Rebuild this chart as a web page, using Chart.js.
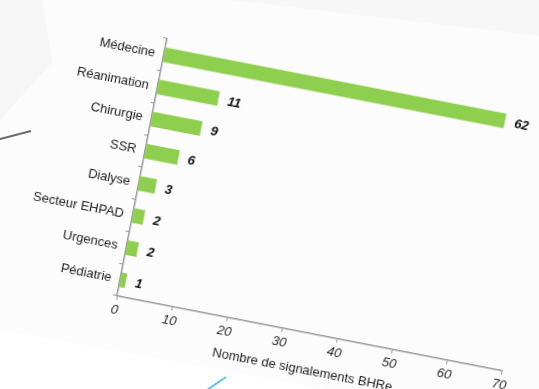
<!DOCTYPE html>
<html>
<head>
<meta charset="utf-8">
<script src="https://cdn.jsdelivr.net/npm/chart.js@4/dist/chart.umd.min.js"></script>
<style>
  html, body { margin: 0; padding: 0; background: #fcfcfc; overflow: hidden; }
  #wrap { position: relative; width: 539px; height: 389px; overflow: hidden; }
  #bg { position: absolute; left: 0; top: 0; }
  #chart { position: absolute; }
</style>
</head>
<body>
<div id="wrap">
  <svg id="bg" width="539" height="389">
    <polygon points="0,330 539,428 539,389 0,389" fill="#ffffff"/>
    <polygon points="230,0 539,0 539,36" fill="#f7f7f7"/>
    <polygon points="0,0 42,0 52,62 0,120" fill="#f6f6f6"/>
    <line x1="0" y1="139" x2="31" y2="131" stroke="#6a6a6a" stroke-width="2"/>
    <line x1="207" y1="390" x2="226" y2="377" stroke="#5bc0eb" stroke-width="2"/>
  </svg>
  <canvas id="chart" width="542" height="320"></canvas>
</div>
<script>
const categories = ['Médecine', 'Réanimation', 'Chirurgie', 'SSR', 'Dialyse', 'Secteur EHPAD', 'Urgences', 'Pédiatrie'];
const signalements = [62, 11, 9, 6, 3, 2, 2, 1];
const xMin = 0;
const xMax = 70;
const xStep = 10;

// the photo is tilted, so the whole canvas gets rotated around the axis origin
const ORIGIN_X = 117, ORIGIN_Y = 296, TILT = 11;
const AXIS_W = 392, AXIS_H = 264;

const font = '"Liberation Sans", Arial, sans-serif';

// numbers at the end of each bar
const valueLabels = {
  id: 'valueLabels',
  afterDatasetsDraw(chart) {
    const ctx = chart.ctx;
    const meta = chart.getDatasetMeta(0);
    ctx.save();
    ctx.font = 'italic bold 13px ' + font;
    ctx.fillStyle = '#111';
    ctx.textAlign = 'left';
    ctx.textBaseline = 'middle';
    meta.data.forEach((bar, i) => {
      ctx.fillText(signalements[i], bar.x + 10, bar.y + 1);
    });
    ctx.restore();
  }
};

const chart = new Chart(document.getElementById('chart'), {
  type: 'bar',
  data: {
    labels: categories,
    datasets: [{
      data: signalements,
      backgroundColor: '#8fcf4f',
      borderWidth: 0,
      barThickness: 14
    }]
  },
  options: {
    indexAxis: 'y',
    responsive: false,
    animation: false,
    layout: { padding: { top: 10, right: 40, left: 0, bottom: 0 } },
    plugins: { legend: { display: false }, tooltip: { enabled: false } },
    scales: {
      x: {
        min: xMin, max: xMax,
        ticks: { stepSize: xStep, color: '#2a2a2a', padding: 3, font: { family: font, size: 13, style: 'italic' } },
        grid: { drawOnChartArea: false, tickLength: 4, color: '#9a9a9a' },
        border: { color: '#9a9a9a', width: 1.5 },
        title: { display: true, text: 'Nombre de signalements BHRe', color: '#1e1e1e',
                 font: { family: font, size: 13 }, padding: { top: 4, bottom: 0 } }
      },
      y: {
        ticks: { color: '#1e1e1e', padding: 5, font: { family: font, size: 13 } },
        grid: { drawOnChartArea: false, tickLength: 4, color: '#9a9a9a' },
        border: { color: '#9a9a9a', width: 1.5 },
        afterFit(s) { s.width = 110; }
      }
    }
  },
  plugins: [valueLabels]
});

// fit plot area to the measured axis lengths
let area = chart.chartArea;
chart.resize(chart.width + (AXIS_W - (area.right - area.left)), chart.height + (AXIS_H - (area.bottom - area.top)));
area = chart.chartArea;

const cv = chart.canvas;
cv.style.left = (ORIGIN_X - area.left) + 'px';
cv.style.top = (ORIGIN_Y - area.bottom) + 'px';
cv.style.transformOrigin = area.left + 'px ' + area.bottom + 'px';
cv.style.transform = 'rotate(' + TILT + 'deg)';
</script>
</body>
</html>
